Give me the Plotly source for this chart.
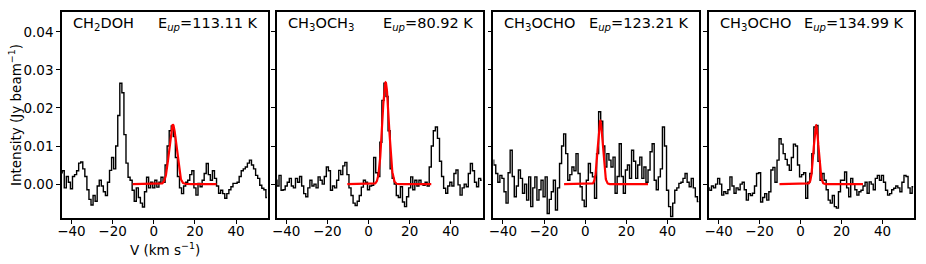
import numpy as np
import plotly.graph_objects as go

# channel velocities (km/s)
velocity = list(range(-45, 56))

# spectra (Jy/beam), one value per channel, -45 ... 55 km/s
spec_ch2doh = [
    0.0030, 0.0035, -0.0010, 0.0020, 0.0005, -0.0012, 0.0020, 0.0025, 0.0035, 0.0055,
    0.0058, 0.0040, 0.0020, -0.0015, -0.0040, -0.0055, -0.0030, -0.0045, -0.0005, 0.0010,
    -0.0005, -0.0020, -0.0030, 0.0005, 0.0036, 0.0070, 0.0040, 0.0100, 0.0180, 0.0265,
    0.0240, 0.0130, 0.0055, 0.0018, 0.0010, -0.0016, -0.0045, -0.0010, -0.0035, -0.0050,
    -0.0060, -0.0020, 0.0018, -0.0010, 0.0005, -0.0010, 0.0010, -0.0008, 0.0005, 0.0018,
    0.0005, 0.0050, 0.0100, 0.0140, 0.0153, 0.0125, 0.0070, 0.0020, -0.0010, -0.0025,
    -0.0005, 0.0005, 0.0010, 0.0025, 0.0035, -0.0010, -0.0029, 0.0002, -0.0007, 0.0010,
    0.0028, 0.0054, 0.0025, 0.0010, 0.0035, 0.0015, -0.0005, -0.0024, -0.0016, -0.0025,
    -0.0037, -0.0025, -0.0015, -0.0007, 0.0002, 0.0002, 0.0005, 0.0020, 0.0035, 0.0040,
    0.0045, 0.0055, 0.0063, 0.0050, 0.0040, 0.0023, 0.0015, -0.0003, -0.0011, -0.0015,
    -0.0035,
]
spec_ch3och3 = [
    0.0010, -0.0005, 0.0023, -0.0016, -0.0015, -0.0005, 0.0005, 0.0015, -0.0005, -0.0010,
    0.0015, 0.0005, 0.0020, -0.0005, -0.0025, -0.0033, -0.0010, 0.0010, -0.0005, 0.0000,
    -0.0010, 0.0019, 0.0010, 0.0000, 0.0020, 0.0045, 0.0035, -0.0016, -0.0005, -0.0010,
    0.0010, 0.0036, 0.0025, 0.0048, 0.0057, 0.0025, -0.0010, -0.0030, -0.0050, -0.0056,
    -0.0045, -0.0030, -0.0008, 0.0010, 0.0005, -0.0015, -0.0005, -0.0003, 0.0070, 0.0030,
    0.0020, 0.0110, 0.0220, 0.0265, 0.0230, 0.0140, 0.0040, 0.0015, 0.0000, -0.0030,
    -0.0035, -0.0007, -0.0047, -0.0059, -0.0033, -0.0010, 0.0019, -0.0015, 0.0010, -0.0005,
    0.0010, 0.0000, -0.0003, 0.0005, -0.0005, 0.0045, 0.0100, 0.0140, 0.0150, 0.0120,
    0.0060, 0.0020, -0.0011, -0.0024, -0.0005, 0.0005, -0.0005, 0.0028, 0.0037, -0.0002,
    -0.0029, -0.0010, 0.0000, -0.0007, 0.0028, 0.0054, 0.0035, 0.0005, -0.0007, 0.0015,
    0.0010,
]
spec_ch3ocho_a = [
    0.0063, 0.0050, 0.0028, 0.0005, 0.0023, 0.0015, -0.0020, -0.0050, 0.0030, 0.0089,
    0.0020, -0.0033, -0.0005, 0.0037, 0.0015, -0.0024, 0.0000, -0.0042, 0.0019, -0.0059,
    -0.0010, 0.0019, -0.0042, -0.0015, 0.0010, -0.0033, 0.0019, -0.0077, -0.0040, -0.0020,
    0.0010, -0.0068, -0.0010, 0.0054, 0.0100, 0.0132, 0.0080, 0.0010, 0.0025, 0.0045,
    0.0035, 0.0080, 0.0028, -0.0007, -0.0042, -0.0059, 0.0010, 0.0054, 0.0030, 0.0019,
    -0.0037, 0.0080, 0.0190, 0.0165, 0.0100, 0.0045, 0.0080, 0.0063, 0.0045, 0.0071,
    -0.0024, 0.0020, 0.0106, 0.0020, -0.0024, 0.0037, 0.0050, 0.0015, 0.0089, 0.0060,
    0.0015, 0.0050, 0.0071, 0.0015, 0.0045, 0.0005, 0.0037, 0.0085, 0.0106, 0.0010,
    -0.0015, 0.0019, 0.0040, 0.0150, 0.0100, -0.0016, -0.0059, -0.0085, -0.0050, -0.0016,
    -0.0010, 0.0002, 0.0005, 0.0015, 0.0028, 0.0005, -0.0007, 0.0015, -0.0010, -0.0033,
    -0.0046,
]
spec_ch3ocho_b = [
    -0.0010, -0.0016, -0.0005, -0.0010, 0.0000, 0.0015, 0.0000, -0.0029, -0.0020, -0.0025,
    -0.0015, 0.0019, -0.0005, -0.0024, -0.0010, -0.0015, 0.0000, 0.0005, -0.0015, -0.0042,
    -0.0025, -0.0030, -0.0024, -0.0005, 0.0028, 0.0030, -0.0047, -0.0035, -0.0025, -0.0042,
    -0.0020, 0.0037, 0.0044, 0.0005, 0.0063, 0.0119, 0.0105, 0.0080, 0.0065, 0.0050,
    0.0036, 0.0070, 0.0105, 0.0100, 0.0050, 0.0019, 0.0025, 0.0030, -0.0037, 0.0005,
    0.0028, 0.0080, 0.0150, 0.0154, 0.0060, 0.0010, 0.0028, 0.0010, -0.0015, -0.0042,
    -0.0050, -0.0030, -0.0059, -0.0063, -0.0020, 0.0010, 0.0010, 0.0032, -0.0010, -0.0033,
    0.0015, 0.0000, -0.0015, -0.0029, -0.0020, -0.0016, -0.0005, 0.0005, -0.0024, 0.0006,
    0.0000, -0.0015, 0.0015, 0.0023, 0.0010, 0.0023, 0.0005, -0.0016, -0.0029, -0.0025,
    -0.0015, -0.0011, -0.0005, -0.0010, -0.0020, 0.0005, 0.0023, 0.0020, -0.0010, -0.0024,
    -0.0007,
]

# Gaussian fit parameters (amplitude Jy/beam, centre km/s, sigma km/s)
fit_amp = [0.0156, 0.0267, 0.0166, 0.0154]
fit_center = [9.3, 8.3, 7.3, 7.6]
fit_sigma = [1.75, 1.6, 1.2, 1.2]
fit_range = [-10.3, 30.5]

molecules = ["CH<sub>2</sub>DOH", "CH<sub>3</sub>OCH<sub>3</sub>", "CH<sub>3</sub>OCHO", "CH<sub>3</sub>OCHO"]
eup_labels = ["113.11", "80.92", "123.21", "134.99"]
spectra = [spec_ch2doh, spec_ch3och3, spec_ch3ocho_a, spec_ch3ocho_b]

x_ticks = [-40, -20, 0, 20, 40]
y_ticks = [0.00, 0.01, 0.02, 0.03, 0.04]

W, H = 926, 264
L, R, T, B = 62, 11, 10, 46
panel_px = [(62, 268), (277, 483), (494, 700), (710, 915)]
plot_w = W - L - R

FONT = "DejaVu Sans"
fig = go.Figure()
annotations = []
layout_axes = {}
for i in range(4):
    n = "" if i == 0 else str(i + 1)
    fig.add_trace(go.Scatter(
        x=velocity, y=spectra[i], mode="lines",
        line=dict(color="black", width=1.4, shape="hvh"),
        xaxis="x" + n, yaxis="y" + n, showlegend=False, hoverinfo="skip"))
    fx = np.linspace(fit_range[0], fit_range[1], 500)
    fy = fit_amp[i] * np.exp(-0.5 * ((fx - fit_center[i]) / fit_sigma[i]) ** 2)
    fig.add_trace(go.Scatter(
        x=fx, y=fy, mode="lines", line=dict(color="red", width=2.2),
        xaxis="x" + n, yaxis="y" + n, showlegend=False, hoverinfo="skip"))
    d0 = (panel_px[i][0] - L) / plot_w
    d1 = (panel_px[i][1] - L) / plot_w
    layout_axes["xaxis" + n] = dict(
        domain=[d0, min(d1, 1.0)], range=[-44.6, 55.4], tickvals=x_ticks,
        ticks="outside", ticklen=4, tickwidth=1.2, tickcolor="black",
        ticklabelstandoff=-4,
        showline=True, mirror=True, linecolor="black", linewidth=1.6,
        showgrid=False, zeroline=False, anchor="y" + n,
        tickfont=dict(family=FONT, size=13.5, color="black"))
    layout_axes["yaxis" + n] = dict(
        domain=[0, 1], range=[-0.0089, 0.0452], tickvals=y_ticks, tickformat=".2f",
        ticks="outside", ticklen=4, tickwidth=1.2, tickcolor="black",
        showticklabels=(i == 0),
        showline=True, mirror=True, linecolor="black", linewidth=1.6,
        showgrid=False, zeroline=False, anchor="x" + n,
        tickfont=dict(family=FONT, size=13.5, color="black"))
    annotations.append(dict(
        text=molecules[i], xref="x" + n + " domain", yref="y" + n + " domain",
        x=0, y=1, xshift=9, yshift=-11.5, xanchor="left", yanchor="middle",
        showarrow=False, font=dict(family=FONT, size=14.5, color="black")))
    annotations.append(dict(
        text="E<sub><i>up</i></sub>=" + eup_labels[i] + " K",
        xref="x" + n + " domain", yref="y" + n + " domain",
        x=1, y=1, xshift=-8, yshift=-11.5, xanchor="right", yanchor="middle",
        showarrow=False, font=dict(family=FONT, size=14.5, color="black")))

annotations.append(dict(
    text="Intensity (Jy beam<sup>−1</sup>)", xref="paper", yref="paper",
    x=(15 - L) / plot_w, y=0.5, xanchor="center", yanchor="middle", textangle=-90,
    showarrow=False, font=dict(family=FONT, size=13.5, color="black")))
annotations.append(dict(
    text="V (km s<sup>−1</sup>)", xref="x domain", yref="paper",
    x=0.5, y=0, yshift=-31, xanchor="center", yanchor="middle",
    showarrow=False, font=dict(family=FONT, size=13.5, color="black")))

fig.update_layout(
    width=W, height=H, margin=dict(l=L, r=R, t=T, b=B, pad=0),
    paper_bgcolor="white", plot_bgcolor="white",
    font=dict(family=FONT, size=13.5, color="black"),
    annotations=annotations, **layout_axes)

fig.write_html(
    "out.html",
    config={"displayModeBar": False},
    post_script="document.body.style.margin='0';document.body.style.overflow='hidden';")
